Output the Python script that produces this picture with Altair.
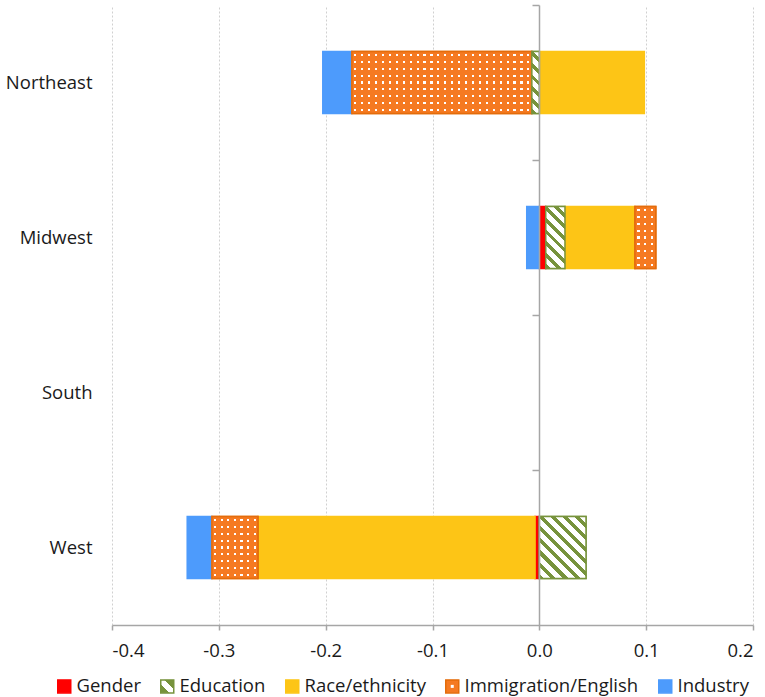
import math
import altair as alt

regions = ["Northeast", "Midwest", "South", "West"]
series = ["Gender", "Education", "Race/ethnicity", "Immigration/English", "Industry"]
gender = [0.0, 0.006, 0.0, -0.004]
education = [-0.007, 0.018, 0.0, 0.0437]
race = [0.0983, 0.0655, 0.0, -0.2594]
immigration = [-0.1685, 0.0195, 0.0, -0.0431]
industry = [-0.0272, -0.0118, 0.0, -0.0231]
x_ticks = [-0.4, -0.3, -0.2, -0.1, 0.0, 0.1, 0.2]

GREEN = "#77933C"
ORANGE = "#F57A22"
ORANGE_DARK = "#E46C0A"
fill_colors = ["#FF0000", GREEN, "#FDC516", ORANGE, "#4D9BFC"]
stroke_colors = ["#FF0000", GREEN, "#FDC516", ORANGE_DARK, "#4D9BFC"]

W, H = 641, 620
X_MIN, X_MAX = -0.4, 0.2
PX = W / (X_MAX - X_MIN)          # pixels per unit on x
BAR_H = 0.4 * H / len(regions)    # bar thickness in pixels
CLEAR = "rgba(255,255,255,0)"


def hatch_gradient(w, h, period=8.5, frac=0.42):
    """diagonal '\\' stripes at 45 degrees for a w x h rectangle"""
    k = (w + h) / (w * w + h * h)
    n = max(1, round((w + h) / math.sqrt(2) / period))
    stops = []
    for i in range(n):
        a, b, c = i / n, (i + frac) / n, (i + 1) / n
        stops += [{"offset": a, "color": GREEN}, {"offset": b, "color": GREEN},
                  {"offset": b, "color": "#FFFFFF"}, {"offset": c, "color": "#FFFFFF"}]
    return {"gradient": "linear", "x1": 0, "y1": 1, "x2": w * k, "y2": 1 - h * k, "stops": stops}


def stripe_gradient(length, horizontal, period=6.9, dot=2.2):
    n = max(1, round(length / period))
    g = dot / period
    a0 = (1 - g) / 2
    stops = []
    for i in range(n):
        a, b, c, d = i / n, (i + a0) / n, (i + a0 + g) / n, (i + 1) / n
        stops += [{"offset": a, "color": ORANGE}, {"offset": b, "color": ORANGE},
                  {"offset": b, "color": CLEAR}, {"offset": c, "color": CLEAR},
                  {"offset": c, "color": ORANGE}, {"offset": d, "color": ORANGE}]
    if horizontal:
        return {"gradient": "linear", "x1": 0, "y1": 0, "x2": 1, "y2": 0, "stops": stops}
    return {"gradient": "linear", "x1": 0, "y1": 0, "x2": 0, "y2": 1, "stops": stops}


values = [gender, education, race, immigration, industry]
records = []
for si, (s, vals) in enumerate(zip(series, values)):
    for r, v in zip(regions, vals):
        if v == 0:
            continue
        rec = {"region": r, "series": s, "order": si, "value": v}
        w = abs(v) * PX
        if s == "Education":
            rec["hatch"] = hatch_gradient(w, BAR_H)
        if s == "Immigration/English":
            rec["dots_x"] = stripe_gradient(w, True)
            rec["dots_y"] = stripe_gradient(BAR_H, False)
        records.append(rec)

# legend swatches
legend_hatch = ("{gradient: 'linear', x1: 0, y1: 1, x2: 1, y2: 0, stops: ["
                "{offset: 0, color: '#77933C'}, {offset: 0.35, color: '#77933C'}, "
                "{offset: 0.35, color: '#FFFFFF'}, {offset: 0.65, color: '#FFFFFF'}, "
                "{offset: 0.65, color: '#77933C'}, {offset: 1, color: '#77933C'}]}")
legend_dot = ("{gradient: 'radial', x1: 0.5, y1: 0.5, r1: 0, x2: 0.5, y2: 0.5, r2: 0.7, stops: ["
              "{offset: 0, color: '#FFFFFF'}, {offset: 0.2, color: '#FFFFFF'}, "
              "{offset: 0.2, color: '#F57A22'}, {offset: 1, color: '#F57A22'}]}")
fill_range = [fill_colors[0], {"expr": legend_hatch}, fill_colors[2], {"expr": legend_dot}, fill_colors[4]]

FONT = "Open Sans"
FS = 18.5
AX = "#A6A6A6"
TXT = "#1A1A1A"

y_scale = alt.Scale(domain=regions, paddingInner=0.6, paddingOuter=0.3)
x_scale = alt.Scale(domain=[X_MIN, X_MAX], nice=False, zero=False)

x_axis = alt.Axis(values=x_ticks, labelExpr="replace(format(datum.value, '.1f'), '\u2212', '-')",
                  grid=True, gridDash=[2, 2], gridColor="#D0D0D0", domainColor=AX, domainWidth=1.5,
                  tickColor=AX, tickWidth=1.5, tickSize=5, labelPadding=11,
                  labelFontSize=FS, labelFont=FONT, labelColor=TXT, title=None)
x_enc = alt.X("v0:Q", scale=x_scale, axis=x_axis)
x2_enc = alt.X2("v1:Q")
y_plain = alt.Y("region:N", scale=y_scale, axis=None)

legend = alt.Legend(title=None, orient="none", direction="horizontal", legendX=-57, legendY=672,
                    symbolType="square", symbolSize=169, labelFontSize=FS, labelFont=FONT,
                    labelColor=TXT, columnPadding=16, labelOffset=3, symbolStrokeWidth=1.5,
                    labelLimit=0)

base = alt.Chart(alt.Data(values=records)).transform_stack(
    stack="value", groupby=["region"], sort=[alt.SortField("order", "ascending")],
    as_=["v0", "v1"], offset="zero",
)

bars = base.mark_bar(strokeWidth=1.5).encode(
    x=x_enc, x2=x2_enc,
    y=alt.Y("region:N", scale=y_scale,
            axis=alt.Axis(domain=False, ticks=False, labelFontSize=FS, labelFont=FONT,
                          labelColor=TXT, labelPadding=20, title=None)),
    fill=alt.Fill("series:N", scale=alt.Scale(domain=series, range=fill_range), legend=legend),
    stroke=alt.Stroke("series:N", scale=alt.Scale(domain=series, range=stroke_colors), legend=legend),
)

imm = base.transform_filter(alt.datum.series == "Immigration/English")
imm_white = imm.mark_bar(fill="#FFFFFF", strokeWidth=0).encode(x=x_enc, x2=x2_enc, y=y_plain)
imm_x = imm.mark_bar(strokeWidth=0).encode(x=x_enc, x2=x2_enc, y=y_plain,
                                           fill=alt.Fill("dots_x:N", scale=None))
imm_y = imm.mark_bar(stroke=ORANGE_DARK, strokeWidth=1.5).encode(
    x=x_enc, x2=x2_enc, y=y_plain, fill=alt.Fill("dots_y:N", scale=None))

edu = base.transform_filter(alt.datum.series == "Education").mark_bar(
    stroke=GREEN, strokeWidth=1.5).encode(x=x_enc, x2=x2_enc, y=y_plain,
                                          fill=alt.Fill("hatch:N", scale=None))

step = H / len(regions)
zero_axis = alt.Chart(alt.Data(values=[{"region": r} for r in regions])).mark_tick(opacity=0).encode(
    x=alt.datum(0, scale=x_scale),
    y=alt.Y("region:N", scale=y_scale,
            axis=alt.Axis(orient="left", offset=-round(W * (0 - X_MIN) / (X_MAX - X_MIN)),
                          labels=False, domain=True, domainColor=AX, domainWidth=1.5,
                          ticks=True, tickOffset=-step / 2, tickSize=7, tickColor=AX,
                          tickWidth=1.5, grid=False, title=None, zindex=1)),
)

chart = alt.layer(bars, imm_white, imm_x, imm_y, edu, zero_axis).resolve_axis(
    y="independent").properties(
    width=W, height=H,
    autosize=alt.AutoSizeParams(type="none"),
    padding={"left": 112, "top": 5, "right": 12, "bottom": 697 - 5 - H},
).configure_view(stroke=None)

chart.save("out.html", embed_options={"renderer": "svg", "actions": False})
